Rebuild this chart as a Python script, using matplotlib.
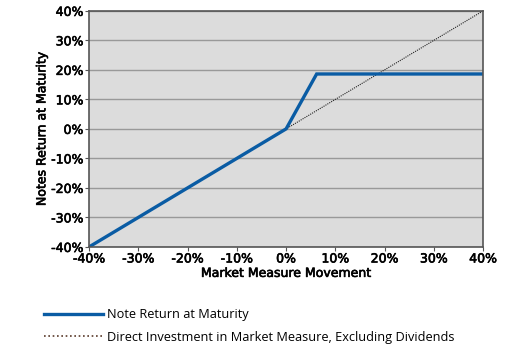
import matplotlib
matplotlib.use("Agg")
import matplotlib.pyplot as plt
from matplotlib.lines import Line2D
import matplotlib.patheffects as pe

market_x = [-40, 0, 6.2, 40]
note_y = [-40, 0, 18.6, 18.6]
direct_x = [-40, 40]
direct_y = [-40, 40]
ticks = [-40, -30, -20, -10, 0, 10, 20, 30, 40]
tick_labels = [f"{t}%" for t in ticks]

heavy = [pe.withStroke(linewidth=0.45, foreground="#000000")]

fig = plt.figure(figsize=(5.24, 3.61), dpi=100)
ax = fig.add_axes([0.170, 0.316, 0.752, 0.654])
ax.set_facecolor("#dcdcdc")
ax.set_xlim(-40, 40)
ax.set_ylim(-40, 40)
ax.set_xticks(ticks)
ax.set_yticks(ticks)
ax.set_xticklabels(tick_labels, fontsize=9, family="DejaVu Sans")
ax.set_yticklabels(tick_labels, fontsize=9, family="DejaVu Sans")
for t in ax.get_xticklabels() + ax.get_yticklabels():
    t.set_path_effects(heavy)
ax.tick_params(axis="both", length=3, pad=1, color="#555555", labelcolor="#000000")
ax.yaxis.grid(True, color="#999999", linewidth=1)
ax.set_axisbelow(True)
for s in ax.spines.values():
    s.set_color("#555555")
    s.set_linewidth(1.2)

ax.plot(direct_x, direct_y, color="#222222", linestyle=(0, (1, 1)), linewidth=0.8)
ax.plot(market_x, note_y, color="#0a5ca4", linewidth=2.4, solid_joinstyle="miter")

xl = ax.set_xlabel("Market Measure Movement", fontsize=9, labelpad=1, color="#000000")
yl = ax.set_ylabel("Notes Return at Maturity", fontsize=9, labelpad=2, color="#000000")
xl.set_path_effects(heavy)
yl.set_path_effects(heavy)

h1 = Line2D([], [], color="#0a5ca4", linewidth=2.4)
h2 = Line2D([], [], color="#5a3a2a", linestyle=(0, (1, 1.6)), linewidth=1.2)
fig.legend([h1, h2], ["Note Return at Maturity",
                      "Direct Investment in Market Measure, Excluding Dividends"],
           loc="upper left", bbox_to_anchor=(0.062, 0.178), frameon=False,
           handlelength=4.6, handletextpad=0.35, labelspacing=0.75,
           prop={"family": "Open Sans", "size": 9.2})
fig.savefig("out.png", dpi=100)
